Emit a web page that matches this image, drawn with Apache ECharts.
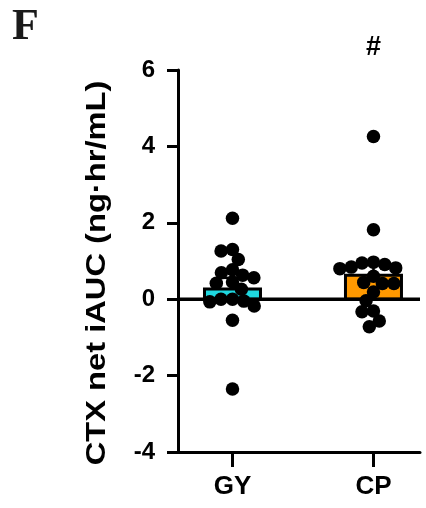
<!DOCTYPE html>
<html><head><meta charset="utf-8">
<script src="https://cdn.jsdelivr.net/npm/echarts@6/dist/echarts.min.js"></script>
<style>html,body{margin:0;padding:0;background:#fff}#c{width:426px;height:508px}</style>
</head><body><div id="c"></div>
<script>
// ---- data ----
const categories = ['GY', 'CP'];
const gyValues = [2.12, 1.30, 1.26, 1.04, 0.77, 0.69, 0.63, 0.56, 0.45, 0.42, 0.26, 0.00, 0.00, -0.05, -0.07, -0.18, -0.55, -2.35];
const cpValues = [4.26, 1.82, 0.97, 0.95, 0.91, 0.84, 0.82, 0.80, 0.60, 0.44, 0.41, 0.41, 0.19, -0.04, -0.31, -0.33, -0.57, -0.72];
const barMeans = [0.27, 0.63];
const barSem = [0.29, 0.27];
const yTickValues = [-4, -2, 0, 2, 4, 6];
const yTitle = 'CTX net iAUC (ng·hr/mL)';
const annotations = ['', '#'];
const panelLabel = 'F';

// ---- style ----
const FONT = '"Liberation Sans", Arial, sans-serif';
const barColors = ['#1fd8e0', '#ff9900'];
const X_MIN = 0.6135, X_MAX = 2.33;
const BAR_PX = 56, DOT = 13.5, SWARM_D = 11.5;

const groups = [gyValues, cpValues];
const chart = echarts.init(document.getElementById('c'), null, {renderer: 'canvas'});

const barData = categories.map((c, i) => [i + 1, barMeans[i], barSem[i]]);

function baseOption() {
  return {
    animation: false,
    backgroundColor: '#fff',
    grid: {left: 178, right: 6, top: 70, bottom: 56, containLabel: false},
    xAxis: {
      type: 'value', min: X_MIN, max: X_MAX,
      axisLine: {show: true, onZero: false, lineStyle: {color: '#000', width: 3}},
      axisTick: {show: true, customValues: [1, 2], length: 15, lineStyle: {color: '#000', width: 3}},
      axisLabel: {customValues: [1, 2], formatter: v => categories[Math.round(v) - 1] || '',
        color: '#000', fontFamily: FONT, fontWeight: 'bold', fontSize: 26, margin: 22},
      splitLine: {show: false}
    },
    yAxis: {
      type: 'value', min: yTickValues[0], max: yTickValues[yTickValues.length - 1], interval: 2,
      axisLine: {show: true, onZero: false, lineStyle: {color: '#000', width: 3}},
      axisTick: {show: true, length: 11, lineStyle: {color: '#000', width: 3}},
      axisLabel: {color: '#000', fontFamily: FONT, fontWeight: 'bold', fontSize: 24, margin: 23},
      splitLine: {show: false}
    },
    series: [
      {
        type: 'custom', z: 2, silent: true,
        data: barData,
        renderItem: (params, api) => {
          const x = api.value(0), m = api.value(1), s = api.value(2);
          const top = api.coord([x, m]);
          const base = api.coord([x, 0]);
          const eTop = api.coord([x, m + s]);
          const idx = params.dataIndex;
          return {
            type: 'group', children: [
              {type: 'rect', shape: {x: top[0] - BAR_PX / 2, y: Math.min(top[1], base[1]), width: BAR_PX, height: Math.abs(base[1] - top[1])},
               style: {fill: barColors[idx], stroke: '#000', lineWidth: 3}},
              {type: 'line', shape: {x1: top[0], y1: top[1], x2: eTop[0], y2: eTop[1]}, style: {stroke: '#000', lineWidth: 2.5}},
              {type: 'line', shape: {x1: eTop[0] - 14, y1: eTop[1], x2: eTop[0] + 14, y2: eTop[1]}, style: {stroke: '#000', lineWidth: 2.5}}
            ]
          };
        }
      },
      {
        type: 'line', z: 3, silent: true, symbol: 'none',
        data: [[X_MIN, 0], [X_MAX, 0]],
        lineStyle: {color: '#000', width: 3.5}
      },
      {
        type: 'scatter', z: 10, silent: true, symbolSize: DOT,
        itemStyle: {color: '#000', opacity: 1},
        data: []
      }
    ]
  };
}

chart.setOption(baseOption());

// beeswarm layout computed in pixel space
function swarm(values, cx) {
  const order = values.map((v, i) => i).sort((a, b) => values[b] - values[a]);
  const placed = [];
  const out = new Array(values.length);
  order.forEach(i => {
    const py = chart.convertToPixel({yAxisIndex: 0}, values[i]);
    const cands = [0];
    placed.forEach(p => {
      const dy = Math.abs(p.y - py);
      if (dy < SWARM_D) {
        const dx = Math.sqrt(SWARM_D * SWARM_D - dy * dy);
        cands.push(p.x + dx, p.x - dx);
      }
    });
    cands.sort((a, b) => Math.abs(a) - Math.abs(b) || a - b);
    let best = 0;
    for (const c of cands) {
      if (placed.every(p => Math.hypot(p.x - c, p.y - py) >= SWARM_D - 1e-6)) { best = c; break; }
    }
    placed.push({x: best, y: py});
    out[i] = [chart.convertFromPixel({xAxisIndex: 0}, cx + best), values[i]];
  });
  return out;
}

const points = [];
groups.forEach((vals, gi) => {
  const cx = chart.convertToPixel({xAxisIndex: 0}, gi + 1);
  swarm(vals, cx).forEach(p => points.push(p));
});

const yTop = chart.convertToPixel({yAxisIndex: 0}, yTickValues[yTickValues.length - 1]);
const yBot = chart.convertToPixel({yAxisIndex: 0}, yTickValues[0]);

const graphics = [
  {type: 'text', x: 12, y: 6, style: {text: panelLabel, font: 'bold 44px "Liberation Serif", "Times New Roman", serif', fill: '#1a1a1a', verticalAlign: 'top'}},
  {type: 'text', x: 98, y: (yTop + yBot) / 2 + 12, rotation: Math.PI / 2, scaleX: 1.21,
   style: {text: yTitle, font: 'bold 27px ' + FONT, fill: '#000', align: 'center', verticalAlign: 'middle'}}
];
annotations.forEach((a, i) => {
  if (!a) return;
  const cx = chart.convertToPixel({xAxisIndex: 0}, i + 1);
  graphics.push({type: 'text', x: cx, y: 48, style: {text: a, font: 'bold 27px ' + FONT, fill: '#000', align: 'center', verticalAlign: 'middle'}});
});

chart.setOption({series: [{}, {}, {data: points}], graphic: graphics});
</script>
</body></html>
